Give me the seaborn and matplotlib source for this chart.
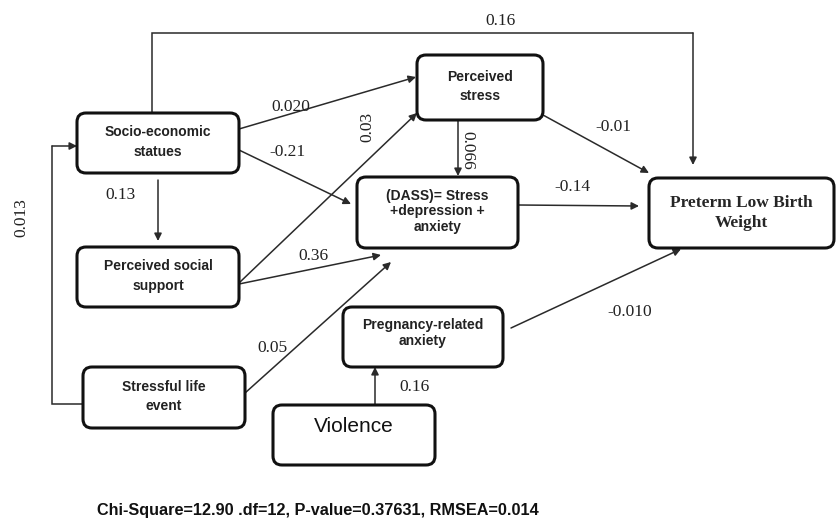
import matplotlib
matplotlib.use("Agg")
import matplotlib.pyplot as plt
import seaborn as sns
from matplotlib.patches import FancyBboxPatch

# node labels
node_ids = ["ses", "pss", "sle", "ps", "dass", "plbw", "pra", "vio"]
node_text = ["Socio-economic\nstatues", "Perceived social\nsupport", "Stressful life\nevent",
             "Perceived\nstress", "(DASS)= Stress\n+depression +\nanxiety",
             "Preterm Low Birth\nWeight", "Pregnancy-related\nanxiety", "Violence"]

# path coefficients (edge labels)
edge_from = ["ses", "ses", "ses", "ses", "sle", "pss", "pss", "sle", "ps", "ps", "dass", "pra", "vio"]
edge_to = ["plbw", "ps", "dass", "pss", "ses", "ps", "dass", "dass", "dass", "plbw", "plbw", "plbw", "pra"]
coef = ["0.16", "0.020", "-0.21", "0.13", "0.013", "0.03", "0.36", "0.05", "0.066", "-0.01", "-0.14", "-0.010", "0.16"]

fit_text = "Chi-Square=12.90 .df=12, P-value=0.37631, RMSEA=0.014"

# layout in pixel coords (x0, y0, x1, y1)
boxes = {
    "ses": (77, 113, 239, 173),
    "pss": (77, 247, 239, 307),
    "sle": (83, 367, 245, 428),
    "ps": (417, 55, 543, 120),
    "dass": (357, 177, 518, 248),
    "plbw": (649, 178, 834, 248),
    "pra": (343, 307, 503, 367),
    "vio": (273, 405, 435, 465),
}
# edge routes: list of points, plus label position / rotation
routes = [
    [(152, 113), (152, 33), (693, 33), (693, 165)],
    [(239, 129), (416, 77)],
    [(239, 150), (351, 204)],
    [(158, 180), (158, 241)],
    [(83, 404), (52, 404), (52, 146), (77, 146)],
    [(239, 283), (417, 113)],
    [(239, 284), (381, 255)],
    [(245, 393), (391, 262)],
    [(458, 121), (458, 176)],
    [(543, 115), (649, 173)],
    [(518, 205), (639, 206)],
    [(511, 328), (681, 249)],
    [(375, 405), (375, 367)],
]
label_pos = [(500, 21, 0), (291, 107, 0), (287, 152, 0), (120, 195, 0), (21, 218, 90),
             (367, 127, 90), (313, 256, 0), (272, 348, 0), (467, 150, -90),
             (613, 127, 0), (572, 187, 0), (630, 312, 0), (415, 387, 0)]

sns.set_style("white")
fig = plt.figure(figsize=(8.36, 5.21), dpi=100)
ax = fig.add_axes([0, 0, 1, 1])
ax.set_xlim(0, 836)
ax.set_ylim(521, 0)
ax.axis("off")

line_col = "#2a2a2a"
sans = ["Liberation Sans", "DejaVu Sans"]
serif = ["Liberation Serif", "DejaVu Serif"]

for nid, txt in zip(node_ids, node_text):
    x0, y0, x1, y1 = boxes[nid]
    ax.add_patch(FancyBboxPatch((x0, y0), x1 - x0, y1 - y0,
                                boxstyle="round,pad=0,rounding_size=9",
                                fc="white", ec="#111111", lw=2.2, zorder=3))
    cx, cy = (x0 + x1) / 2, (y0 + y1) / 2
    if nid == "plbw":
        ax.text(cx, cy, txt, ha="center", va="center", fontsize=12.5, fontweight="bold",
                family=serif, linespacing=1.3, zorder=4)
    elif nid == "vio":
        ax.text(cx, cy - 8, txt, ha="center", va="center", fontsize=15,
                family=sans, color="#111111", zorder=4)
    else:
        ls = {"dass": 1.15, "pra": 1.25}.get(nid, 1.5)
        off = -4 if nid == "pra" else -1
        ax.text(cx, cy + off, txt, ha="center", va="center", fontsize=10, fontweight="bold",
                family=sans, color="#222222", linespacing=ls, zorder=4)

for pts, lab, (lx, ly, rot) in zip(routes, coef, label_pos):
    xs = [p[0] for p in pts]
    ys = [p[1] for p in pts]
    if len(pts) > 2:
        ax.plot(xs[:-1], ys[:-1], color=line_col, lw=1.1, solid_joinstyle="miter", zorder=2)
    ax.annotate("", xy=pts[-1], xytext=pts[-2],
                arrowprops=dict(arrowstyle="-|>", mutation_scale=11, lw=1.1,
                                color=line_col, shrinkA=0, shrinkB=0), zorder=2)
    ax.text(lx, ly, lab, ha="center", va="center", rotation=rot, fontsize=12.5,
            family=serif, color="#222222", zorder=5)

ax.text(97, 510, fit_text, ha="left", va="center", fontsize=11.7, fontweight="bold",
        family=sans, color="#111111")

fig.savefig("out.png", dpi=100)
